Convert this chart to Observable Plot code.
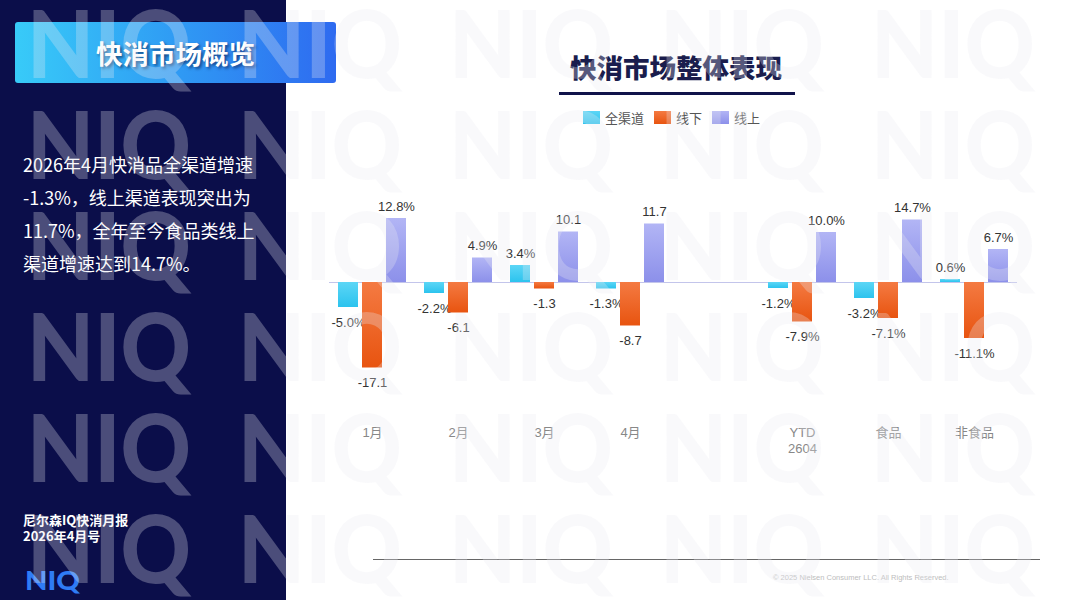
<!DOCTYPE html>
<html>
<head>
<meta charset="utf-8">
<script src="https://cdn.jsdelivr.net/npm/d3@7"></script>
<script src="https://cdn.jsdelivr.net/npm/@observablehq/plot@0.6"></script>
<style>
html,body{margin:0;padding:0;}
body{width:1067px;height:600px;position:relative;overflow:hidden;background:#fff;font-family:"Noto Sans CJK SC","Noto Sans",sans-serif;}
#side{position:absolute;left:0;top:0;width:286px;height:600px;background:#0b0e4a;}
#banner{position:absolute;left:15px;top:22px;width:321px;height:61px;border-radius:3px;background:linear-gradient(90deg,#38cbf8 0%,#2f9bf4 50%,#2e6af0 100%);color:#fff;font-weight:700;font-size:26.5px;display:flex;align-items:center;justify-content:center;text-shadow:2px 2px 3px rgba(0,0,40,.5);}
#para{position:absolute;left:23px;top:148px;width:262px;color:#fff;font-size:18px;line-height:33px;white-space:nowrap;}
#foot{position:absolute;left:23px;top:512px;color:#fff;font-size:13px;font-weight:700;line-height:16px;}
#logo{position:absolute;left:0;top:560px;}
#title{position:absolute;left:476px;width:400px;top:48px;text-align:center;font-size:26.5px;font-weight:900;color:#1a1d4d;line-height:38px;}
#uline{position:absolute;left:559px;top:92px;width:236px;height:2.5px;background:#10134a;}
#legend{position:absolute;left:583px;top:108px;display:flex;align-items:center;font-size:13px;color:#555;}
#legend .sw{width:17px;height:13px;margin-right:5px;}
#legend .it{display:flex;align-items:center;margin-right:10px;}
#chart{position:absolute;left:0;top:150px;}
#bline{position:absolute;left:373px;top:559px;width:667px;height:1px;background:#666;}
#copy{position:absolute;left:773px;top:573px;font-family:"Liberation Sans",Arial,sans-serif;font-size:7.5px;color:#bdbdbd;white-space:nowrap;}
#wm{position:absolute;left:0;top:0;pointer-events:none;z-index:10;}
</style>
</head>
<body>
<div id="side"></div>
<div id="banner">快消市场概览</div>
<div id="para">2026年4月快消品全渠道增速<br>-1.3%，线上渠道表现突出为<br>11.7%，全年至今食品类线上<br>渠道增速达到14.7%。</div>
<div id="foot">尼尔森IQ快消月报<br>2026年4月号</div>
<svg id="logo" width="120" height="40"><text x="25" y="30" font-family="Lato" font-weight="900" font-size="27" fill="#2f7cf5" textLength="55" lengthAdjust="spacingAndGlyphs">NIQ</text></svg>
<div id="title">快消市场整体表现</div>
<div id="uline"></div>
<div id="legend"></div>
<div id="chart"></div>
<div id="bline"></div>
<div id="copy">© 2025 Nielsen Consumer LLC. All Rights Reserved.</div>
<svg id="wm" width="1067" height="600"></svg>
<script>
// ---- data ----
const monthCats = ["1月", "2月", "3月", "4月"];
const summaryCats = ["YTD\n2604", "食品", "非食品"];
const series = ["全渠道", "线下", "线上"];
// bar heights as drawn in the picture
const allChannel = [-5.0, -2.2, 3.4, -1.3, -1.2, -3.2, 0.6];
const offline = [-17.1, -6.1, -1.3, -8.7, -7.9, -7.2, -11.2];
const online = [12.8, 4.9, 10.1, 11.7, 10.0, 12.5, 6.6];
// labels as printed in the picture
const allChannelLabels = ["-5.0%", "-2.2%", "3.4%", "-1.3%", "-1.2%", "-3.2%", "0.6%"];
const offlineLabels = ["-17.1", "-6.1", "-1.3", "-8.7", "-7.9%", "-7.1%", "-11.1%"];
const onlineLabels = ["12.8%", "4.9%", "10.1", "11.7", "10.0%", "14.7%", "6.7%"];
const seriesColors = [["#5cd6f6", "#2cc3ee"], ["#f47a42", "#e85410"], ["#b2b5f5", "#8c90ea"]];

const cats = [...monthCats, ...summaryCats];
const xDomain = [...monthCats, " ", ...summaryCats];
const values = [allChannel, offline, online];
const labels = [allChannelLabels, offlineLabels, onlineLabels];
const rows = cats.flatMap((c, i) => series.map((s, j) => ({cat: c, series: s, k: j, value: values[j][i], label: labels[j][i]})));

// ---- legend ----
const lg = document.getElementById("legend");
series.forEach((s, j) => {
  const it = document.createElement("div"); it.className = "it";
  const sw = document.createElement("div"); sw.className = "sw";
  sw.style.background = `linear-gradient(180deg, ${seriesColors[j][0]}, ${seriesColors[j][1]})`;
  const t = document.createElement("span"); t.textContent = s;
  it.appendChild(sw); it.appendChild(t); lg.appendChild(it);
});

// ---- chart ----
const marks = [Plot.ruleY([0], {stroke: "#c3c5eb", strokeWidth: 1})];
series.forEach((s, j) => {
  const d = rows.filter(r => r.k === j);
  marks.push(Plot.barY(d, {x: "cat", y: "value", fill: `url(#grad${j})`, insetLeft: 33, insetRight: 33, dx: (j - 1) * 24}));
  marks.push(Plot.text(d.filter(r => r.value >= 0), {x: "cat", y: "value", text: "label", dx: (j - 1) * 24, dy: -12, fill: "#333"}));
  marks.push(Plot.text(d.filter(r => r.value < 0), {x: "cat", y: "value", text: "label", dx: (j - 1) * 24, dy: 15, fill: "#333"}));
});
marks.push(Plot.axisX({tickSize: 0, tickPadding: 43, fill: "#888", label: null, lineHeight: 1.25}));

const chart = Plot.plot({
  width: 1067,
  height: 310,
  marginLeft: 329,
  marginRight: 50,
  marginTop: 52,
  marginBottom: 78,
  x: {domain: xDomain, padding: 0},
  y: {domain: [-20, 16], axis: null},
  style: {fontFamily: "'Liberation Sans', Arial, 'Noto Sans CJK SC', sans-serif", fontSize: "13px", background: "transparent", overflow: "visible"},
  marks
});
const svg = d3.select(chart);
const defs = svg.insert("defs", ":first-child");
seriesColors.forEach((c, j) => {
  const g = defs.append("linearGradient").attr("id", `grad${j}`).attr("x1", 0).attr("y1", 0).attr("x2", 0).attr("y2", 1);
  g.append("stop").attr("offset", "0%").attr("stop-color", c[0]);
  g.append("stop").attr("offset", "100%").attr("stop-color", c[1]);
});
document.getElementById("chart").appendChild(chart);

// ---- watermark overlay ----
const wm = d3.select("#wm");
for (let r = 0; r < 6; r++) {
  for (let c = 0; c < 5; c++) {
    wm.append("text")
      .attr("x", 27 + c * 211).attr("y", 78 + r * 101)
      .attr("font-family", "Lato").attr("font-weight", 900).attr("font-size", 93)
      .attr("textLength", 164).attr("lengthAdjust", "spacingAndGlyphs")
      .attr("fill", "rgba(234,234,240,0.29)")
      .text("NIQ");
  }
}
</script>
</body>
</html>
